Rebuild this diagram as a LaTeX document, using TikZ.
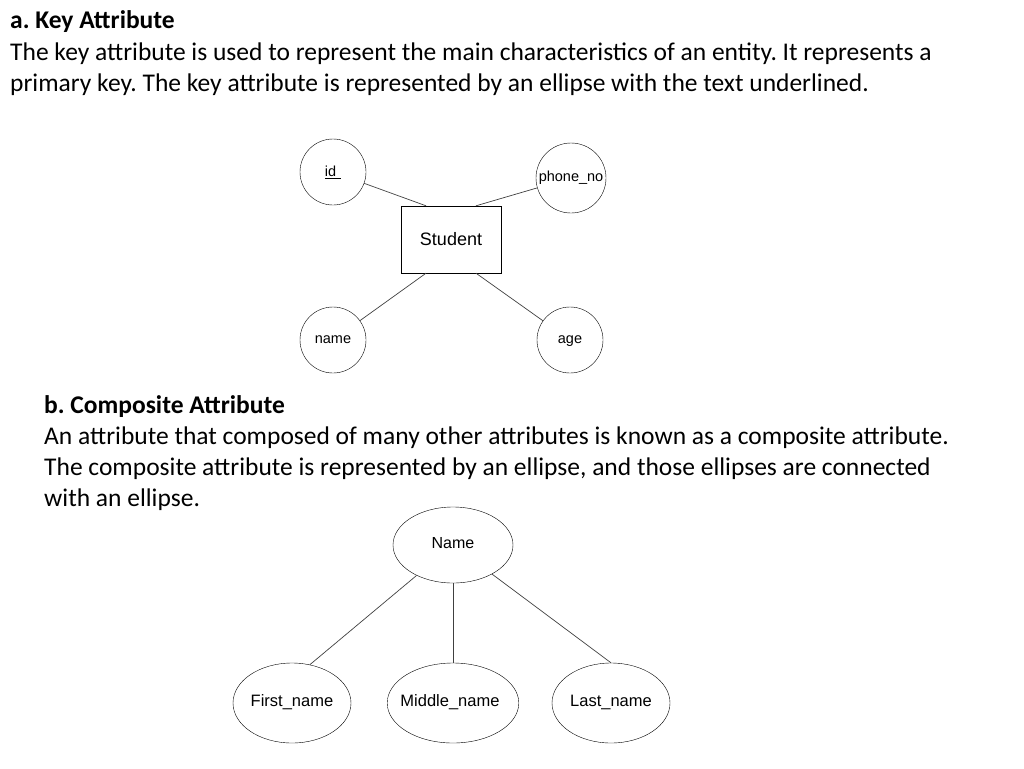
\documentclass[tikz,border=0pt]{standalone}
\usepackage{fontspec}
\setmainfont{Carlito}
\newfontfamily\diagfont{Liberation Sans}
\usetikzlibrary{shapes.geometric}
\frenchspacing
\begin{document}
\begin{tikzpicture}[x=1pt,y=-1pt]
\tikzset{ attr/.style={draw, circle, minimum size=66pt, inner sep=0pt, font=\diagfont\fontsize{14.5}{16}\selectfont},
          comp/.style={draw, ellipse, minimum width=118pt, minimum height=80pt, inner sep=0pt, font=\diagfont\fontsize{16.5}{18}\selectfont},
          ent/.style={draw, minimum width=100pt, minimum height=67pt, font=\diagfont\fontsize{18}{20}\selectfont},
          txt/.style={anchor=base west, inner sep=0pt, font=\fontsize{25.5}{30}\selectfont},
          ln/.style={draw, black!75, line width=0.7pt} }

\useasboundingbox (0,0) rectangle (1024,768);

% a. key attribute
\node [txt, font=\bfseries\fontsize{25.5}{30}\selectfont] (ha) at (10,29) {a. Key Attribute};
\node [txt] (ta1) at (10,60) {The key attribute is used to represent the main characteristics of an entity. It represents a};
\node [txt] (ta2) at (10,91) {primary key. The key attribute is represented by an ellipse with the text underlined.};

\node [ent] (S) at (451,239.5) {Student};
\node [attr] (id) at (333,172) {\underline{id\,\,}};
\node [attr, minimum size=70pt] (ph) at (571,178) {phone\_no};
\node [attr] (nm) at (333,340) {\strut name};
\node [attr] (ag) at (570,340) {\strut age};

\draw [ln] (id) -- ([xshift=-25pt]S.north);
\draw [ln] (ph) -- ([xshift=25pt]S.north);
\draw [ln] (nm) -- ([xshift=-25pt]S.south);
\draw [ln] (ag) -- ([xshift=25pt]S.south);

% b. composite attribute
\node [txt, font=\bfseries\fontsize{25.5}{30}\selectfont] (hb) at (44,413) {b. Composite Attribute};
\node [txt] (tb1) at (44,444) {An attribute that composed of many other attributes is known as a composite attribute.};
\node [txt] (tb2) at (44,475) {The composite attribute is represented by an ellipse, and those ellipses are connected};
\node [txt] (tb3) at (44,506) {with an ellipse.};

\node [comp, minimum width=120pt, minimum height=76pt, font=\diagfont\fontsize{16}{18}\selectfont] (N) at (453,545) {\strut Name};
\node [comp] (F) at (292,703) {\strut First\_name};
\node [comp, minimum width=116pt] (M) at (453,703) {\strut\hspace{-6pt}Middle\_name\hspace{-6pt}};
\node [comp] (L) at (611,703) {\strut Last\_name};

\draw [ln] (N) -- (F.65);
\draw [ln] (N) -- (M);
\draw [ln] (N) -- (L.north);

\end{tikzpicture}
\end{document}
